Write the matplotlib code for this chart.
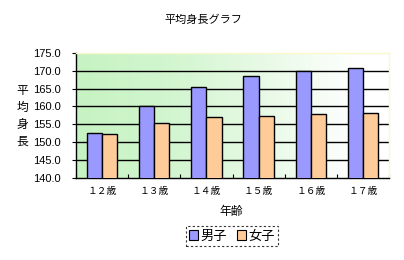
import matplotlib
matplotlib.use("Agg")
import matplotlib.pyplot as plt
import numpy as np
from matplotlib.colors import LinearSegmentedColormap

plt.rcParams['font.family'] = ['Noto Sans CJK JP', 'DejaVu Sans']

categories = ["１２歳", "１３歳", "１４歳", "１５歳", "１６歳", "１７歳"]
boys = [152.5, 160.0, 165.4, 168.5, 169.9, 170.8]
girls = [152.2, 155.3, 157.0, 157.3, 157.8, 158.1]
series_names = ["男子", "女子"]
title = "平均身長グラフ"
xlabel = "年齢"
ylabel = "平\n均\n身\n長"

fig = plt.figure(figsize=(4.04, 2.60), dpi=100)
ax = fig.add_axes([0.188, 0.3165, 0.775, 0.48])

n = len(categories)
x = np.arange(n)
w = 0.29

# gradient background
cmap = LinearSegmentedColormap.from_list("g", [(0, "#c6f3c2"), (0.3, "#d2f6cf"), (0.6, "#e8fae6"), (0.9, "#ffffff"), (1, "#ffffff")])
grad = np.linspace(0, 1, 256).reshape(1, -1)
ax.imshow(grad, aspect='auto', cmap=cmap, extent=[-0.5, n - 0.5, 140, 175], zorder=0)

ax.bar(x - w / 2, boys, w, bottom=0, color="#9999ff", edgecolor="black", linewidth=1.0, zorder=3, label=series_names[0])
ax.bar(x + w / 2, girls, w, bottom=0, color="#ffcc99", edgecolor="black", linewidth=1.0, zorder=3, label=series_names[1])

ax.set_xlim(-0.5, n - 0.5)
ax.set_ylim(140, 175)
yt = np.arange(140, 176, 5)
ax.set_yticks(yt)
ax.set_yticklabels([f"{v:.1f}" for v in yt], fontsize=8, family=['Liberation Sans', 'DejaVu Sans'])
for v in yt[1:-1]:
    ax.axhline(v, color="black", linewidth=1.0, zorder=1)

ax.set_xticks(x)
ax.set_xticklabels(categories, fontsize=7)
ax.tick_params(axis='x', length=0, pad=6)
ax.set_xticks(np.arange(n + 1) - 0.5, minor=True)
ax.tick_params(axis='x', which='minor', direction='in', length=3, width=0.8)
ax.tick_params(axis='y', direction='out', length=3, width=0.8, pad=8)

for s in ['top', 'right']:
    ax.spines[s].set_color("#fbf8cc")
    ax.spines[s].set_linewidth(1.0)
ax.spines['left'].set_linewidth(1.0)
ax.spines['bottom'].set_linewidth(1.0)

fig.text(203 / 404, 1 - 20 / 260, title, ha='center', va='center', fontsize=8)
fig.text(231 / 404, 1 - 211 / 260, xlabel, ha='center', va='center', fontsize=8.5)
fig.text(22 / 404, 1 - 116 / 260, ylabel, ha='center', va='center', fontsize=8.5, linespacing=1.4)

leg = fig.legend(loc='center', bbox_to_anchor=(232 / 404, 1 - 236 / 260), ncol=2, fontsize=9.5,
                 frameon=True, fancybox=False, handlelength=0.7, handleheight=0.7,
                 handletextpad=0.2, columnspacing=0.7, borderpad=0.25, borderaxespad=0)
frame = leg.get_frame()
frame.set_edgecolor("black")
frame.set_linestyle((0, (2, 2)))
frame.set_linewidth(0.8)
for h in leg.legend_handles:
    h.set_linewidth(0.8)

fig.savefig("out.png", dpi=100)
